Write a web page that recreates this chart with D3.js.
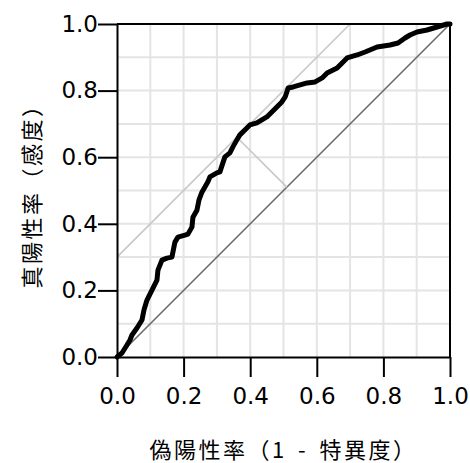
<!DOCTYPE html>
<html>
<head>
<meta charset="utf-8">
<script src="https://cdn.jsdelivr.net/npm/d3@7"></script>
<style>
  html, body { margin: 0; padding: 0; background: #fff; }
  svg { display: block; }
</style>
</head>
<body>
<svg id="chart" width="470" height="463"></svg>
<script>
// ROC curve points: [1 - specificity, sensitivity]
const fpr = [0, 0.015, 0.030, 0.039, 0.045, 0.060, 0.075, 0.081, 0.090, 0.105, 0.120, 0.123, 0.135, 0.150, 0.165, 0.168,
  0.174, 0.183, 0.204, 0.213, 0.225, 0.228, 0.240, 0.246, 0.255, 0.273, 0.279, 0.300, 0.309, 0.318, 0.324, 0.339,
  0.348, 0.360, 0.369, 0.384, 0.399, 0.420, 0.435, 0.450, 0.465, 0.480, 0.495, 0.505, 0.514, 0.529, 0.550, 0.571,
  0.595, 0.616, 0.631, 0.661, 0.676, 0.691, 0.721, 0.745, 0.781, 0.820, 0.844, 0.865, 0.880, 0.901, 0.931, 0.961,
  0.991, 1];
const tpr = [0, 0.012, 0.036, 0.051, 0.066, 0.087, 0.111, 0.141, 0.171, 0.201, 0.231, 0.261, 0.291, 0.297, 0.300, 0.315,
  0.345, 0.360, 0.366, 0.369, 0.390, 0.420, 0.441, 0.471, 0.495, 0.526, 0.541, 0.553, 0.556, 0.583, 0.601, 0.613,
  0.631, 0.652, 0.667, 0.682, 0.697, 0.703, 0.712, 0.721, 0.736, 0.751, 0.766, 0.781, 0.808, 0.811, 0.817, 0.823,
  0.826, 0.838, 0.853, 0.868, 0.883, 0.898, 0.907, 0.916, 0.931, 0.937, 0.943, 0.958, 0.967, 0.976, 0.982, 0.991,
  1, 1];

// best cut-off point (touch point of the 45 degree tangent)
const cutPoint = [0.36, 0.66];

const tickValues = [0, 0.2, 0.4, 0.6, 0.8, 1.0];
const gridValues = [0.1, 0.2, 0.3, 0.4, 0.5, 0.6, 0.7, 0.8, 0.9];
const xTitle = "偽陽性率（1 - 特異度）";
const yTitle = "真陽性率（感度）";

const width = 470, height = 463;
const margin = { top: 24, right: 20, bottom: 106, left: 117 };
const w = width - margin.left - margin.right;
const h = height - margin.top - margin.bottom;

const svg = d3.select("#chart");
const chart = svg.append("g")
  .attr("transform", `translate(${margin.left},${margin.top})`);

const x = d3.scaleLinear().domain([0, 1]).range([0, w]);
const y = d3.scaleLinear().domain([0, 1]).range([h, 0]);

// grid
chart.append("g").selectAll("line.gx")
  .data(gridValues).enter().append("line")
  .attr("x1", d => x(d)).attr("x2", d => x(d))
  .attr("y1", 0).attr("y2", h)
  .attr("stroke", "#e4e4e4").attr("stroke-width", 2);
chart.append("g").selectAll("line.gy")
  .data(gridValues).enter().append("line")
  .attr("x1", 0).attr("x2", w)
  .attr("y1", d => y(d)).attr("y2", d => y(d))
  .attr("stroke", "#e4e4e4").attr("stroke-width", 2);

// reference diagonal
chart.append("line")
  .attr("x1", x(0)).attr("y1", y(0))
  .attr("x2", x(1)).attr("y2", y(1))
  .attr("stroke", "#6a6a6a").attr("stroke-width", 1.6);

// tangent line parallel to diagonal through the cut point
const offset = cutPoint[1] - cutPoint[0];
chart.append("line")
  .attr("x1", x(0)).attr("y1", y(offset))
  .attr("x2", x(1 - offset)).attr("y2", y(1))
  .attr("stroke", "#c8c8c8").attr("stroke-width", 1.6);

// perpendicular from the cut point down to the diagonal
const mid = (cutPoint[0] + cutPoint[1]) / 2;
chart.append("line")
  .attr("x1", x(cutPoint[0])).attr("y1", y(cutPoint[1]))
  .attr("x2", x(mid)).attr("y2", y(mid))
  .attr("stroke", "#c8c8c8").attr("stroke-width", 1.6);

// ROC curve
const pts = fpr.map((d, i) => [d, tpr[i]]);
chart.append("path")
  .datum(pts)
  .attr("fill", "none")
  .attr("stroke", "#000")
  .attr("stroke-width", 5)
  .attr("stroke-linejoin", "round")
  .attr("stroke-linecap", "round")
  .attr("d", d3.line().x(d => x(d[0])).y(d => y(d[1])));

// frame (top + right)
chart.append("line").attr("x1", 0).attr("x2", w).attr("y1", 0).attr("y2", 0)
  .attr("stroke", "#000").attr("stroke-width", 2);
chart.append("line").attr("x1", w).attr("x2", w).attr("y1", 0).attr("y2", h)
  .attr("stroke", "#000").attr("stroke-width", 2);

const fmt = d3.format(".1f");
const xAxis = chart.append("g")
  .attr("transform", `translate(0,${h})`)
  .call(d3.axisBottom(x).tickValues(tickValues).tickFormat(fmt).tickSize(20).tickSizeOuter(0).tickPadding(11));
const yAxis = chart.append("g")
  .call(d3.axisLeft(y).tickValues(tickValues).tickFormat(fmt).tickSize(19).tickSizeOuter(0).tickPadding(0));

[xAxis, yAxis].forEach(a => {
  a.select(".domain").attr("stroke", "#000").attr("stroke-width", 2);
  a.selectAll(".tick line").attr("stroke", "#000").attr("stroke-width", 2);
  a.selectAll(".tick text")
    .attr("fill", "#000")
    .style("font-family", "'DejaVu Sans', Verdana, sans-serif")
    .style("font-size", "23px");
});

// axis titles
svg.append("text")
  .attr("x", margin.left + w / 2)
  .attr("y", 448)
  .attr("text-anchor", "middle")
  .attr("dominant-baseline", "central")
  .style("font-family", "'Noto Sans CJK JP', sans-serif")
  .style("font-size", "22px")
  .style("letter-spacing", "2.5px")
  .style("word-spacing", "4px")
  .attr("fill", "#000")
  .text(xTitle);

svg.append("text")
  .attr("transform", `translate(30,${margin.top + h / 2}) rotate(-90)`)
  .attr("text-anchor", "middle")
  .attr("dominant-baseline", "central")
  .style("font-family", "'Noto Sans CJK JP', sans-serif")
  .style("font-size", "22px")
  .style("letter-spacing", "2.5px")
  .attr("fill", "#000")
  .text(yTitle);
</script>
</body>
</html>
